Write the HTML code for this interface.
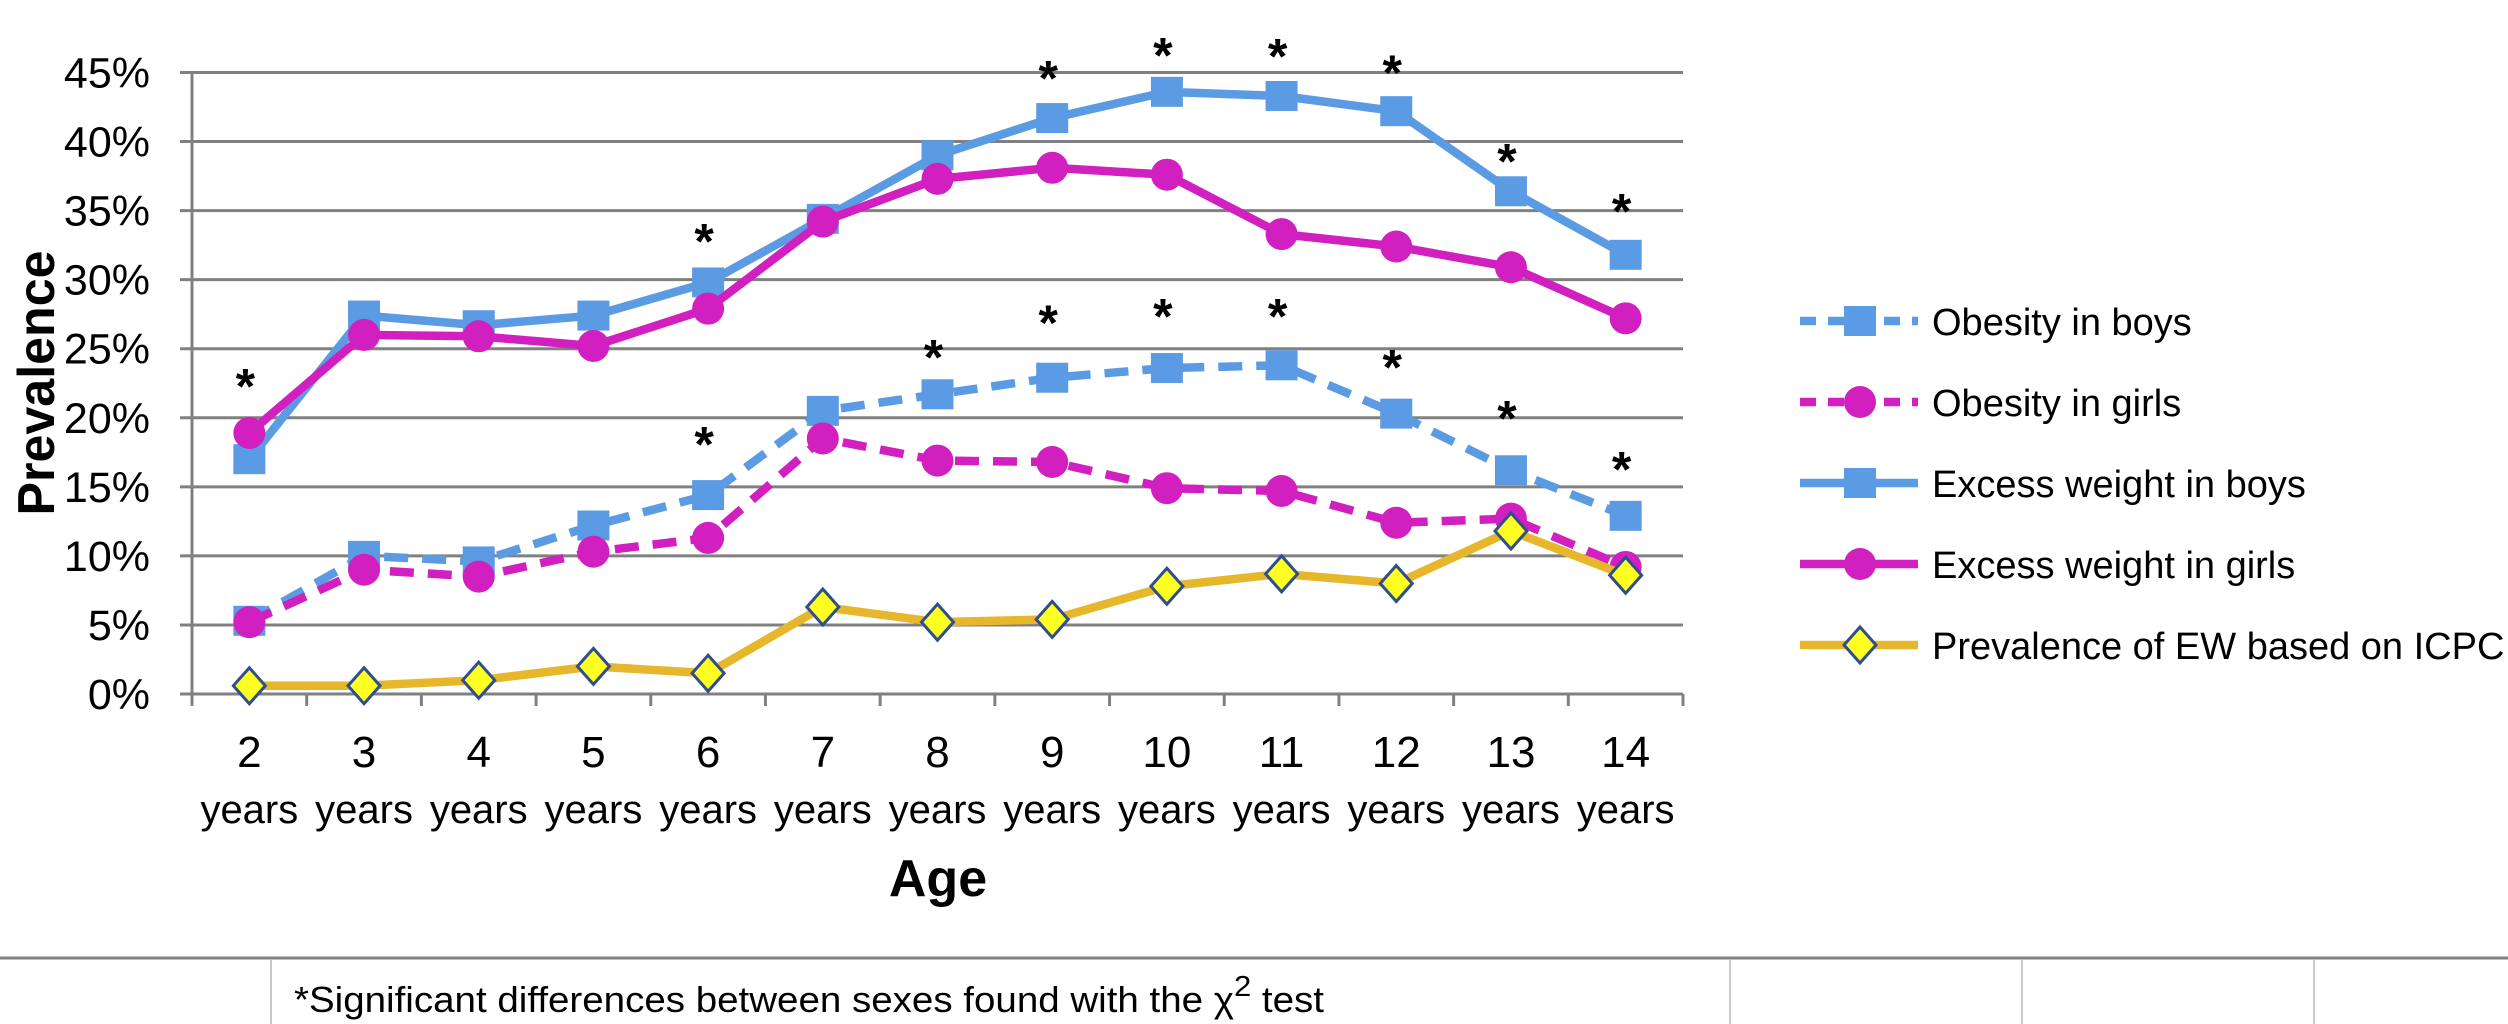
<!DOCTYPE html>
<html><head><meta charset="utf-8"><style>
body{margin:0;background:#fff;}
svg{display:block;font-family:"Liberation Sans",Arial,sans-serif;}
</style></head><body>
<svg id="chart" width="2508" height="1024" viewBox="0 0 2508 1024" xmlns="http://www.w3.org/2000/svg">
<g id="grid"></g>
<g id="yticks"></g>
<g id="xticks"></g>
<g id="series"></g>
<g id="stars"></g>
<text transform="translate(54,383) rotate(-90)" text-anchor="middle" font-weight="bold" font-size="52" textLength="265" lengthAdjust="spacingAndGlyphs">Prevalence</text>
<text x="938" y="896" text-anchor="middle" font-weight="bold" font-size="52">Age</text>
<g id="legend"></g>
<line x1="0" y1="958" x2="2508" y2="958" stroke="#808080" stroke-width="3"/>
<g stroke="#c8c8c8" stroke-width="2">
<line x1="271" y1="960" x2="271" y2="1024"/><line x1="1730" y1="960" x2="1730" y2="1024"/><line x1="2022" y1="960" x2="2022" y2="1024"/><line x1="2314" y1="960" x2="2314" y2="1024"/></g>
<text x="294" y="1012" font-size="36" textLength="1030" lengthAdjust="spacingAndGlyphs">*Significant differences between sexes found with the χ<tspan dy="-16" font-size="29">2</tspan><tspan dy="16"> test</tspan></text>
</svg>
<script>
const categories=["2","3","4","5","6","7","8","9","10","11","12","13","14"];
const yTicks=[0,5,10,15,20,25,30,35,40,45];
const obesityBoys=[5.3,10.0,9.6,12.2,14.4,20.5,21.7,22.9,23.6,23.8,20.3,16.2,12.9];
const obesityGirls=[5.2,9.0,8.5,10.3,11.3,18.5,16.9,16.8,14.9,14.7,12.4,12.7,9.2];
const excessBoys=[17.0,27.4,26.7,27.4,29.8,34.4,39.0,41.7,43.6,43.3,42.2,36.4,31.8];
const excessGirls=[18.9,26.0,25.9,25.2,27.9,34.2,37.3,38.1,37.6,33.3,32.4,30.9,27.2];
const icpc=[0.6,0.6,1.0,2.0,1.5,6.3,5.2,5.4,7.8,8.7,8.0,11.8,8.6];
const starCats=[0,4,4,6,7,7,8,8,9,9,10,10,11,11,12,12];
const starLevels=[22.9,33.4,18.7,25.0,45.2,27.5,46.9,28.0,46.8,28.0,45.6,24.3,39.2,20.6,35.6,16.9];

const NS="http://www.w3.org/2000/svg";
const X0=192,X1=1683,Y0=694,Y45=72.5;
const bw=(X1-X0)/categories.length;
const xs=i=>X0+bw*(i+0.5);
const ys=v=>Y0-(v/45)*(Y0-Y45);
function mk(tag,attrs,parent){const e=document.createElementNS(NS,tag);for(const k in attrs)e.setAttribute(k,attrs[k]);parent.appendChild(e);return e;}
const grid=document.getElementById('grid'),yt=document.getElementById('yticks'),xt=document.getElementById('xticks');
yTicks.forEach(v=>{
  const l=mk('line',{x1:180,x2:X1,y1:ys(v),y2:ys(v),stroke:'#808080','stroke-width':3},grid);
  
  
  const t=mk('text',{x:150,y:ys(v)+15,'text-anchor':'end','font-size':43},yt);
  t.textContent=v+'%';
  
  
});
mk('line',{x1:X0,x2:X0,y1:Y45,y2:705,stroke:'#808080','stroke-width':3},grid);
for(let i=0;i<=categories.length;i++){mk('line',{x1:X0+bw*i,x2:X0+bw*i,y1:Y0,y2:706,stroke:'#808080','stroke-width':3},grid);}
categories.forEach((c,i)=>{
  const t=mk('text',{x:xs(i),y:767,'text-anchor':'middle','font-size':44},xt);
  t.textContent=c;
  
  
  const t2=mk('text',{x:xs(i),y:823,'text-anchor':'middle','font-size':40},xt);
  t2.textContent='years';
  
  
});
const BLUE='#5B9BE3',MAG='#D21FC0',GOLD='#E6B72A';
const ser=document.getElementById('series');
function marker(type,x,y,color,g){
  if(type==='sq')return mk('rect',{x:x-16,y:y-15,width:32,height:30,fill:color},g);
  if(type==='ci')return mk('circle',{cx:x,cy:y,r:16,fill:color},g);
  return mk('polygon',{points:`${x},${y-18} ${x+16},${y} ${x},${y+18} ${x-16},${y}`,fill:'#FFFF22',stroke:'#2E4E8E','stroke-width':3},g);
}
function drawSeries(name,vals,color,dash,type){
  const g=mk('g',{},ser);
  
  
  const p=mk('polyline',{points:vals.map((v,i)=>xs(i)+','+ys(v)).join(' '),fill:'none',stroke:color,'stroke-width':8.5,'stroke-linejoin':'round','stroke-dasharray':dash?'24 14':'none'},g);
  vals.forEach((v,i)=>{const m=marker(type,xs(i),ys(v),color,g);});
}
drawSeries('obesity-boys-series',obesityBoys,BLUE,true,'sq');
drawSeries('obesity-girls-series',obesityGirls,MAG,true,'ci');
drawSeries('excess-boys-series',excessBoys,BLUE,false,'sq');
drawSeries('excess-girls-series',excessGirls,MAG,false,'ci');
drawSeries('icpc-series',icpc,GOLD,false,'di');
const st=document.getElementById('stars');
starCats.forEach((c,i)=>{
  const t=mk('text',{x:xs(c)-4,y:ys(starLevels[i])+26,'text-anchor':'middle','font-size':50,'font-weight':'bold'},st);
  t.textContent='*';
  
  
});
const leg=document.getElementById('legend');
const legItems=[["Obesity in boys",BLUE,true,'sq'],["Obesity in girls",MAG,true,'ci'],["Excess weight in boys",BLUE,false,'sq'],["Excess weight in girls",MAG,false,'ci'],["Prevalence of EW based on ICPC",GOLD,false,'di']];
const legY=[321,402,483,564,645];
legItems.forEach((it,i)=>{
  const g=mk('g',{},leg);
  
  
  mk('line',{x1:1800,x2:1918,y1:legY[i],y2:legY[i],stroke:it[1],'stroke-width':8.5,'stroke-dasharray':it[2]?'16 12':'none'},g);
  marker(it[3],1860,legY[i],it[1],g);
  const t=mk('text',{x:1932,y:legY[i]+14,'font-size':38},g);
  t.textContent=it[0];
});
</script>
</body></html>
